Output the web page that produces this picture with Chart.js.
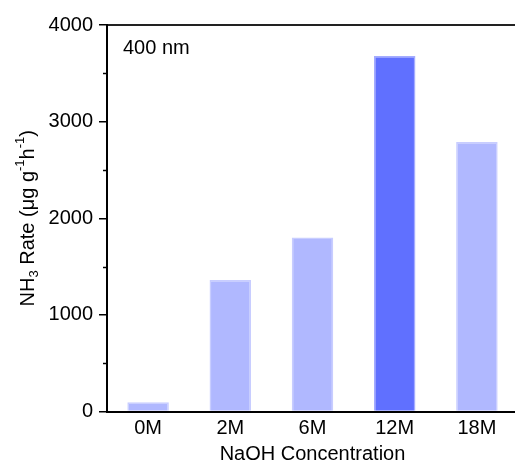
<!DOCTYPE html>
<html>
<head>
<meta charset="utf-8">
<script src="https://cdn.jsdelivr.net/npm/chart.js@4.4.0/dist/chart.umd.min.js"></script>
<style>
  html, body { margin: 0; padding: 0; background: #fff; overflow: hidden; }
  #wrap { width: 520px; height: 466px; position: relative; }
</style>
</head>
<body>
<div id="wrap"><canvas id="c"></canvas></div>
<script>
// ---- data ----
const categories = ['0M', '2M', '6M', '12M', '18M'];
const nh3Rate = [95, 1360, 1800, 3680, 2790];
const barFill = ['#b0b8ff', '#b0b8ff', '#b0b8ff', '#6070ff', '#b0b8ff'];
const barEdge = ['#c8cdff', '#c8cdff', '#c8cdff', '#a4acff', '#c8cdff'];
const yMajorTicks = [0, 1000, 2000, 3000, 4000];
const yMinorTicks = [500, 1500, 2500, 3500];
const annotationText = '400 nm';
const xTitle = 'NaOH Concentration';

const FONT = "'Liberation Sans', Arial, sans-serif";

const extras = {
  id: 'extras',
  afterDraw(chart) {
    const ctx = chart.ctx;
    const y = chart.scales.y;
    const area = chart.chartArea;
    ctx.save();
    // minor ticks
    ctx.strokeStyle = '#000';
    ctx.lineWidth = 1.5;
    yMinorTicks.forEach(v => {
      const py = Math.round(y.getPixelForValue(v)) + 0.5;
      ctx.beginPath();
      ctx.moveTo(area.left - 4, py);
      ctx.lineTo(area.left, py);
      ctx.stroke();
    });
    // annotation
    ctx.fillStyle = '#000';
    ctx.font = '20px ' + FONT;
    ctx.textBaseline = 'middle';
    ctx.textAlign = 'left';
    ctx.fillText(annotationText, area.left + 16, area.top + 23);
    // y title with sub/superscripts
    const parts = [
      { t: 'NH', s: 20, dy: 0 },
      { t: '3', s: 13, dy: 6 },
      { t: ' Rate (\u03BCg g', s: 20, dy: 0 },
      { t: '-1', s: 13, dy: -8 },
      { t: 'h', s: 20, dy: 0 },
      { t: '-1', s: 13, dy: -8 },
      { t: ')', s: 20, dy: 0 }
    ];
    let total = 0;
    parts.forEach(p => { ctx.font = p.s + 'px ' + FONT; p.w = ctx.measureText(p.t).width; total += p.w; });
    ctx.translate(28, (area.top + area.bottom) / 2);
    ctx.rotate(-Math.PI / 2);
    ctx.textBaseline = 'middle';
    let x = -total / 2;
    parts.forEach(p => {
      ctx.font = p.s + 'px ' + FONT;
      ctx.fillText(p.t, x, p.dy);
      x += p.w;
    });
    ctx.restore();
  }
};

new Chart(document.getElementById('c'), {
  type: 'bar',
  data: {
    labels: categories,
    datasets: [{
      data: nh3Rate,
      backgroundColor: barFill,
      borderColor: barEdge,
      borderWidth: 1.5,
      categoryPercentage: 1.0,
      barPercentage: 0.505
    }]
  },
  options: {
    responsive: true,
    maintainAspectRatio: false,
    animation: false,
    layout: { padding: { top: 25, right: 2, left: 0, bottom: 0 } },
    plugins: { legend: { display: false }, tooltip: { enabled: false } },
    scales: {
      x: {
        position: 'bottom',
        grid: { display: false, drawTicks: false },
        border: { display: true, color: '#000', width: 2 },
        ticks: { color: '#000', font: { family: FONT, size: 20 }, padding: 5, maxRotation: 0 },
        title: { display: true, text: xTitle, color: '#000', font: { family: FONT, size: 20 }, padding: { top: 0, bottom: 0 } },
        afterFit(s) { s.height = 54.5; }
      },
      xTop: {
        type: 'category',
        position: 'top',
        grid: { display: false, drawTicks: false },
        border: { display: true, color: '#222', width: 2 },
        ticks: { display: false },
        afterFit(s) { s.height = 0; }
      },
      y: {
        min: 0,
        max: 4000,
        afterBuildTicks(s) { s.ticks = yMajorTicks.map(v => ({ value: v })); },
        grid: { display: true, drawOnChartArea: false, drawTicks: true, tickLength: 8, color: '#000', lineWidth: 1.5 },
        border: { display: true, color: '#000', width: 2 },
        ticks: { color: '#000', font: { family: FONT, size: 20 }, padding: 6, callback: v => String(v) },
        afterFit(s) { s.width = 107; }
      }
    }
  },
  plugins: [extras]
});
</script>
</body>
</html>
